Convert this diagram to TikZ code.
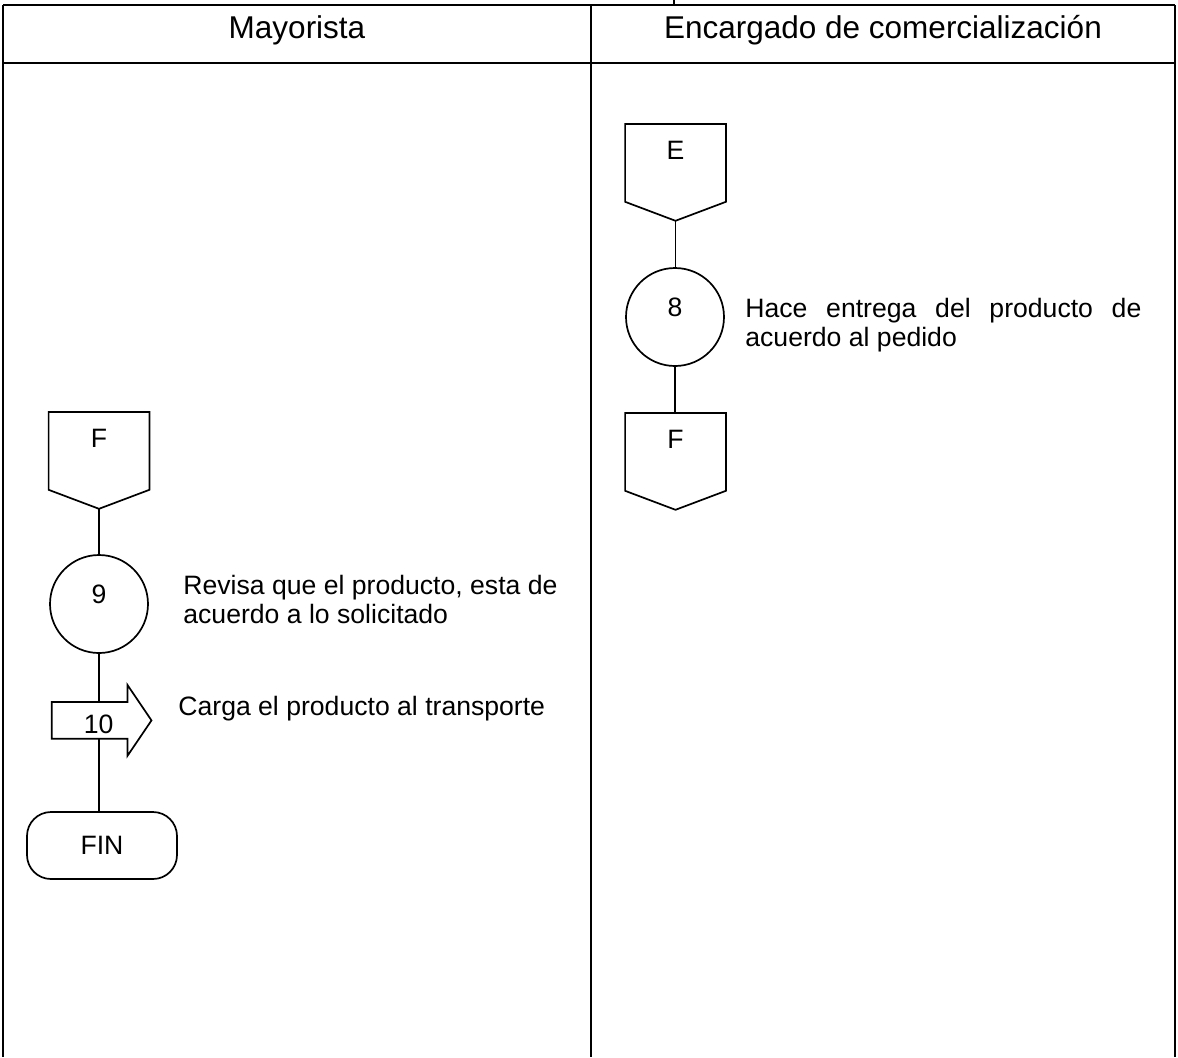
\documentclass[tikz,border=0pt]{standalone}
\usepackage{fontspec}
\setmainfont{Liberation Sans}
\usetikzlibrary{calc,positioning}

\begin{document}
\begin{tikzpicture}[x=0.5pt, y=-0.5pt,
    every node/.style={font=\fontsize{13.3}{14.5}\selectfont},
    lane/.style={line width=1.2pt},
    shp/.style={line width=0.85pt},
    proc/.style={draw, shp, circle, minimum size=49pt, inner sep=0pt, text height=9.5pt, text depth=10pt},
    conn/.style={rectangle, minimum width=50pt, minimum height=48pt, inner sep=0pt, anchor=north, text height=9.5pt, text depth=22pt},
    desc/.style={inner sep=0pt, anchor=west, align=left},
    hdr/.style={anchor=base, font=\fontsize{15.75}{18}\selectfont}]
      \useasboundingbox (0,0) rectangle (1178,1057);

      % lanes
      \draw[lane] (3,5) -- (1175,5);
      \draw[lane] (674,0) -- (674,5);
      \draw[lane] (3,63) -- (1175,63);
      \draw[lane] (3,5) -- (3,1057);
      \draw[lane] (591,5) -- (591,1057);
      \draw[lane] (1175,5) -- (1175,1057);

      \node[hdr] (hA) at (297,38) {Mayorista};
      \node[hdr] (hB) at (883,38) {Encargado de comercializaci\'on};

      % Encargado de comercializacion
      \node[conn] (conE) at (675.5,124) {E};
      \node[proc] (c8) at (675,317) {8};
      \node[conn] (fR) at (675.5,413) {F};
      \node[desc, text width=198pt, align=justify] (t8) at (745,325) {Hace entrega del producto de acuerdo al pedido};

      % Mayorista
      \node[conn] (fL) at (99,412) {F};
      \node[proc] (c9) at (99,604) {9};
      \node[desc] (t9) at (183,599.5) {Revisa que el producto, esta de\\acuerdo a lo solicitado};
      \node[rectangle, anchor=north west, minimum width=37.5pt, minimum height=18pt, inner sep=0pt, text height=13.5pt, text depth=0pt] (a10) at (51.7,702) {\hspace*{9pt}10};
      \node[desc] (t10) at (178,709) {Carga el producto al transporte};
      \node[draw, shp, rounded corners=12pt, minimum width=75pt, minimum height=33.5pt, inner sep=0pt] (fin) at (102,845.5) {FIN};

      % off-page connectors and transport arrow
      \foreach \n in {conE,fR,fL}
        \draw[shp] (\n.north west) -- (\n.north east) -- ($(\n.south east)+(0,-19)$) -- (\n.south) -- ($(\n.south west)+(0,-19)$) -- cycle;
      \draw[shp] (a10.north west) -- (a10.north east) -- ++(0,-17) -- ($(a10.east)+(24,0)$) -- ($(a10.south east)+(0,17)$) -- (a10.south east) -- (a10.south west) -- cycle;

      \draw[shp] (conE.south) -- (conE.south |- c8.north);
      \draw[shp] (c8.south) -- (c8.south |- fR.north);
      \draw[shp] (fL.south) -- (fL.south |- c9.north);
      \draw[shp] (c9.south) -- (c9.south |- a10.north);
      \draw[shp] (c9 |- a10.south) -- (c9 |- fin.north);
    \end{tikzpicture}
\end{document}
